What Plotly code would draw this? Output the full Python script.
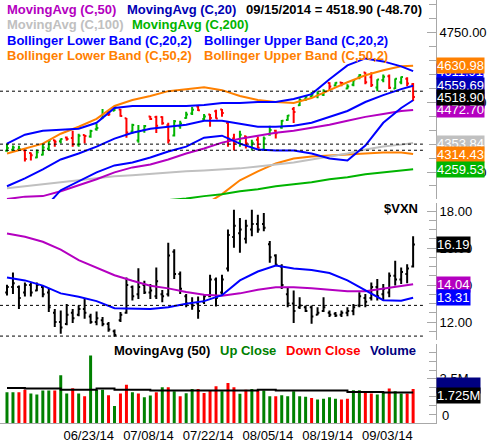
import plotly.graph_objects as go
from plotly.subplots import make_subplots
import pandas as pd

FONT = "Liberation Sans, Arial, sans-serif"

C = {
    "green": "#00B400",
    "red": "#FF0000",
    "vol_green": "#008000",
    "blue": "#0000FF",
    "navy": "#0000B4",
    "magenta": "#B400C0",
    "gray": "#C0C0C0",
    "ma200": "#00B400",
    "orange": "#FF8000",
    "axis": "#A8A8A8",
    "black": "#000000",
    "vol_box": "#000080",
}

# trading days shown on the chart
dates = [d.strftime("%Y-%m-%d") for d in pd.bdate_range(
    "2014-06-09", "2014-09-15", freq="C", holidays=["2014-07-04", "2014-09-01"])]

# $COMPQ daily bars
comp_open = [4326, 4330, 4330, 4328, 4318, 4302, 4312, 4333, 4364, 4360,
             4374, 4372, 4349, 4383, 4377, 4403, 4443, 4463, 4470, 4474,
             4443, 4395, 4363, 4400, 4449, 4447, 4447, 4418, 4381, 4414,
             4444, 4460, 4485, 4440, 4456, 4468, 4474, 4426, 4370, 4355,
             4378, 4340, 4366, 4330, 4385, 4398, 4410, 4437, 4476, 4490,
             4510, 4521, 4522, 4527, 4569, 4560, 4571, 4550, 4563, 4590,
             4607, 4590, 4553, 4580, 4594, 4550, 4572, 4585, 4565]
comp_high = [4352, 4345, 4344, 4331, 4320, 4331, 4352, 4363, 4366, 4370,
             4377, 4398, 4387, 4384, 4402, 4423, 4476, 4469, 4483, 4476,
             4444, 4423, 4419, 4419, 4451, 4452, 4450, 4427, 4437, 4434,
             4466, 4483, 4487, 4458, 4458, 4473, 4476, 4430, 4387, 4398,
             4380, 4366, 4377, 4377, 4416, 4402, 4437, 4455, 4483, 4515,
             4522, 4537, 4540, 4547, 4572, 4572, 4572, 4565, 4580, 4601,
             4608, 4608, 4583, 4600, 4600, 4586, 4593, 4590, 4569]
comp_low = [4323, 4327, 4328, 4288, 4291, 4299, 4309, 4327, 4341, 4352,
            4362, 4341, 4341, 4352, 4373, 4398, 4441, 4451, 4469, 4448,
            4373, 4387, 4355, 4391, 4437, 4390, 4420, 4352, 4377, 4405,
            4441, 4455, 4469, 4434, 4412, 4441, 4448, 4341, 4327, 4341,
            4334, 4327, 4334, 4327, 4380, 4370, 4405, 4434, 4426, 4487,
            4505, 4519, 4515, 4523, 4544, 4558, 4558, 4547, 4558, 4583,
            4565, 4555, 4540, 4572, 4548, 4548, 4565, 4558, 4505]
comp_close = [4336, 4338, 4332, 4297, 4310, 4321, 4338, 4362, 4359, 4368,
              4368, 4350, 4380, 4379, 4397, 4408, 4458, 4457, 4482, 4451,
              4392, 4419, 4396, 4415, 4440, 4416, 4425, 4363, 4432, 4424,
              4456, 4473, 4472, 4449, 4444, 4442, 4462, 4370, 4352, 4384,
              4353, 4355, 4337, 4370, 4401, 4389, 4434, 4453, 4465, 4508,
              4520, 4527, 4532, 4539, 4557, 4570, 4569, 4557, 4579, 4598,
              4572, 4562, 4582, 4592, 4552, 4585, 4591, 4568, 4518.90]

# overlay readings, every third session
line_dates = ["2014-06-09", "2014-06-12", "2014-06-17", "2014-06-20", "2014-06-25",
              "2014-06-30", "2014-07-03", "2014-07-09", "2014-07-14", "2014-07-17",
              "2014-07-22", "2014-07-25", "2014-07-30", "2014-08-04", "2014-08-07",
              "2014-08-12", "2014-08-15", "2014-08-20", "2014-08-25", "2014-08-28",
              "2014-09-03", "2014-09-08", "2014-09-11", "2014-09-15"]
ma20 = [4198.9, 4227.4, 4259.4, 4294.9, 4316.3, 4341.2, 4369.6, 4390.9, 4405.2, 4412.3,
        4419.4, 4433.6, 4433.6, 4422.9, 4412.3, 4412.3, 4415.8, 4426.5, 4447.9, 4469.1,
        4501.2, 4526.0, 4547.4, 4559.69]
bb20_upper = [4351.8, 4383.8, 4398.1, 4401.6, 4405.2, 4426.5, 4479.8, 4487.0, 4487.0, 4487.0,
              4487.0, 4490.5, 4497.6, 4497.6, 4501.2, 4501.2, 4511.8, 4529.6, 4582.9, 4632.7,
              4657.6, 4646.9, 4629.1, 4611.91]
bb20_lower = [4067.5, 4113.6, 4184.7, 4216.7, 4248.7, 4273.6, 4284.3, 4302.1, 4323.4,
              4341.2, 4373.2, 4380.3, 4351.8, 4330.5, 4326.9, 4326.9, 4316.3, 4298.5, 4291.4,
              4344.7, 4426.5, 4479.8, 4507.47]  # from 06/12
ma50 = [4152.7, 4161.6, 4163.4, 4181.2, 4202.5, 4223.8, 4248.7, 4266.5, 4277.2, 4294.9,
        4316.3, 4334.1, 4355.4, 4369.6, 4380.3, 4390.9, 4398.1, 4408.7, 4419.4, 4433.6,
        4447.9, 4458.5, 4469.1, 4472.70]
ma100 = [4191.8, 4198.9, 4206.1, 4213.2, 4220.3, 4227.4, 4234.5, 4238.1, 4243.4, 4248.7,
         4252.3, 4255.8, 4259.4, 4263.0, 4270.1, 4277.2, 4284.3, 4294.9, 4305.6, 4316.3,
         4330.5, 4341.2, 4348.2, 4353.84]
ma200 = [4149.2, 4154.5, 4163.4, 4170.5, 4181.2, 4188.3, 4198.9, 4206.1, 4213.2, 4223.8,
         4230.9, 4241.6, 4248.7, 4255.8, 4259.53]  # from 07/17
bb50_upper = [4316.3, 4334.1, 4351.8, 4387.4, 4412.3, 4440.7, 4487.0, 4508.3, 4522.5, 4540.2,
              4547.4, 4554.5, 4543.8, 4522.5, 4508.3, 4501.2, 4497.6, 4515.4, 4543.8, 4572.2,
              4597.1, 4614.9, 4629.1, 4630.98]
bb50_lower = [4092.3, 4131.4, 4170.5, 4220.3, 4252.3, 4280.7, 4298.5, 4305.6, 4309.2, 4312.7,
              4316.3, 4319.8, 4319.8, 4314.43]  # from 07/22
comp_levels = [4540, 4350, 4328]

# $VXN daily bars
vxn_open = [13.6, 13.9, 13.9, 13.6, 14.0, 13.7, 13.9, 13.6, 12.5, 12.0,
            11.9, 12.5, 12.4, 12.7, 12.3, 12.0, 12.1, 11.9, 11.5, 12.1,
            12.5, 13.9, 13.5, 14.0, 13.6, 13.4, 13.5, 13.5, 15.8, 14.6,
            13.4, 13.0, 13.0, 13.1, 13.4, 14.3, 13.6, 14.9, 16.6, 16.8,
            16.5, 17.0, 17.3, 17.3, 16.2, 15.6, 15.0, 13.5, 13.0, 12.8,
            12.8, 12.8, 12.4, 12.6, 12.5, 12.45, 12.4, 12.5, 12.6, 12.9,
            13.3, 13.3, 13.9, 13.5, 13.6, 14.5, 14.3, 14.6, 15.0]
vxn_high = [14.02, 14.68, 13.97, 14.14, 14.14, 14.14, 13.97, 13.84, 12.71, 12.63,
            12.98, 12.71, 12.90, 13.25, 12.45, 12.57, 12.27, 12.00, 11.59, 12.54,
            14.41, 13.97, 14.91, 14.23, 14.05, 14.95, 13.73, 16.29, 15.93, 14.73,
            13.52, 13.34, 13.38, 13.52, 14.56, 14.41, 14.56, 17.00, 18.07, 17.63,
            17.53, 18.07, 17.80, 17.89, 16.38, 15.66, 15.12, 13.88, 13.70, 13.34,
            12.90, 12.90, 12.80, 13.34, 12.63, 12.54, 12.63, 12.80, 12.98, 13.61,
            13.52, 14.14, 14.32, 14.05, 14.68, 15.31, 14.95, 15.12, 16.64]
vxn_low = [13.43, 13.52, 12.71, 13.38, 13.38, 13.66, 13.34, 12.54, 11.73, 11.37,
           11.82, 11.95, 12.31, 12.18, 11.91, 11.82, 11.77, 11.47, 11.20, 12.00,
           12.45, 13.16, 13.25, 13.52, 13.25, 13.25, 13.07, 13.38, 14.32, 13.52,
           12.80, 12.66, 12.18, 12.98, 13.34, 12.84, 13.48, 14.73, 16.02, 15.75,
           16.25, 16.64, 16.82, 16.91, 15.21, 15.04, 13.78, 12.80, 11.95, 12.71,
           12.54, 11.91, 12.36, 12.54, 12.27, 12.27, 12.27, 12.31, 12.36, 12.80,
           12.80, 13.16, 13.16, 13.16, 13.34, 13.97, 14.06, 14.09, 14.95]
vxn_close = [13.9, 14.1, 13.3, 14.0, 13.6, 14.0, 13.5, 12.8, 12.0, 11.7,
             12.4, 12.2, 12.7, 12.5, 12.0, 12.2, 11.9, 11.6, 11.3, 12.4,
             14.0, 13.4, 13.9, 13.6, 13.7, 14.2, 13.4, 15.6, 14.6, 13.8,
             13.0, 12.9, 12.6, 13.4, 14.3, 13.3, 14.3, 16.7, 17.2, 17.0,
             17.2, 17.3, 17.0, 17.1, 15.5, 15.1, 14.0, 13.0, 12.6, 12.9,
             12.6, 12.3, 12.5, 12.8, 12.4, 12.35, 12.5, 12.6, 12.8, 13.4,
             13.1, 13.9, 13.4, 13.8, 14.5, 14.3, 14.7, 14.9, 16.19]
vxn_ma_fast = [14.41, 14.25, 13.97, 13.55, 13.37, 13.13, 12.75, 12.71, 12.71, 12.80,
               12.99, 13.13, 13.45, 14.25, 14.73, 15.05, 14.89, 14.81, 14.65, 14.25,
               13.70, 13.18, 13.15, 13.31]
vxn_ma_slow = [16.78, 16.61, 16.34, 15.91, 15.35, 14.92, 14.53, 14.23, 13.96, 13.82,
               13.62, 13.48, 13.42, 13.55, 13.74, 13.88, 13.88, 13.82, 13.72, 13.66,
               13.66, 13.80, 13.93, 14.04]
vxn_levels = [12.90, 11.24]

# volume, millions of shares; G = up close, R = down close
volume_m = [1.74, 1.74, 1.74, 1.89, 1.67, 1.61, 1.84, 1.84, 1.84, 2.70,
            1.67, 1.97, 1.67, 1.52, 3.82, 1.89, 1.89, 1.57, 0.96, 1.67,
            2.17, 1.74, 1.67, 1.46, 1.56, 1.74, 2.02, 2.02, 1.80, 1.52,
            1.69, 1.93, 1.93, 1.70, 1.85, 2.08, 1.80, 2.26, 2.02, 1.65,
            1.89, 1.93, 1.89, 1.84, 1.52, 1.52, 1.57, 1.52, 1.80, 1.52,
            1.48, 1.42, 1.33, 1.37, 1.46, 1.37, 1.33, 1.37, 1.85, 1.85,
            1.74, 1.67, 1.61, 1.74, 1.95, 1.80, 1.67, 1.67, 1.93]
volume_dir = "GGRRGGGGRGGRGRGGGRGRRGRGGRGRGRGGRRRRGRRGRGRGGRGGGGGRGGGGRRGGRRGGRGGRR"
volume_ma50 = [1.98, 1.95, 1.95, 1.89, 1.89, 1.95, 1.89, 1.89, 1.84, 1.84,
               1.84, 1.84, 1.84, 1.84, 1.89, 1.84, 1.84, 1.84, 1.84, 1.76,
               1.76, 1.725, 1.725, 1.725]

tick_dates = ["2014-06-23", "2014-07-08", "2014-07-22", "2014-08-05", "2014-08-19", "2014-09-03"]
tick_text = ["06/23/14", "07/08/14", "07/22/14", "08/05/14", "08/19/14", "09/03/14"]

fig = make_subplots(rows=3, cols=1, shared_xaxes=True)


def line(x, y, color, row):
    fig.add_trace(go.Scatter(x=x, y=y, mode="lines", line=dict(color=color, width=2),
                             hoverinfo="skip"), row=row, col=1)


fig.add_trace(go.Ohlc(
    x=dates, open=comp_open, high=comp_high, low=comp_low, close=comp_close,
    increasing_line_color=C["green"], decreasing_line_color=C["red"],
    line_width=2, tickwidth=0.3,
), row=1, col=1)
line(line_dates[10:], bb50_lower, C["orange"], 1)
line(line_dates[9:], ma200, C["ma200"], 1)
line(line_dates, ma100, C["gray"], 1)
line(line_dates, ma50, C["magenta"], 1)
line(line_dates, bb50_upper, C["orange"], 1)
line(line_dates[1:], bb20_lower, C["blue"], 1)
line(line_dates, bb20_upper, C["blue"], 1)
line(line_dates, ma20, C["blue"], 1)

fig.add_trace(go.Ohlc(
    x=dates, open=vxn_open, high=vxn_high, low=vxn_low, close=vxn_close,
    increasing_line_color=C["black"], decreasing_line_color=C["black"],
    line_width=2, tickwidth=0.3,
), row=2, col=1)
line(line_dates, vxn_ma_slow, C["magenta"], 2)
line(line_dates, vxn_ma_fast, C["blue"], 2)

fig.add_trace(go.Bar(
    x=dates, y=volume_m,
    marker_color=[C["vol_green"] if d == "G" else C["red"] for d in volume_dir],
    marker_line_width=0,
), row=3, col=1)
fig.add_trace(go.Scatter(x=line_dates, y=volume_ma50, mode="lines", line_shape="hv",
                         line=dict(color=C["black"], width=2)), row=3, col=1)

n = len(dates)
x_common = dict(type="category", categoryorder="array", categoryarray=dates,
                range=[-1.17, n + 2.83], showgrid=False, zeroline=False,
                rangeslider=dict(visible=False), fixedrange=True)
for ax in ("xaxis", "xaxis2"):
    fig.layout[ax].update(showticklabels=False, ticks="", showline=False, **x_common)
fig.layout.xaxis3.update(
    tickvals=tick_dates, ticktext=tick_text, ticks="", ticklabelshift=22,
    showline=True, linecolor=C["axis"], linewidth=1,
    tickfont=dict(family=FONT, size=13, color="#000"), **x_common)

y_common = dict(side="right", showgrid=False, zeroline=False, showline=True,
                linecolor=C["axis"], linewidth=1, ticks="inside", ticklen=9,
                tickcolor=C["axis"], tickfont=dict(family=FONT, size=13, color="#000"),
                fixedrange=True)
fig.layout.yaxis.update(domain=[0.5293, 1], range=[4152.7, 4867.3], tick0=0, dtick=250,
                        tickformat=".2f",
                        minor=dict(ticks="inside", ticklen=7, tickcolor=C["axis"], dtick=50, tick0=0),
                        **y_common)
fig.layout.yaxis2.update(domain=[0.1967, 0.5199], range=[11.04, 18.43], tick0=0, dtick=2,
                         tickformat=".2f",
                         minor=dict(ticks="inside", ticklen=7, tickcolor=C["axis"], dtick=0.5, tick0=0),
                         **y_common)
fig.layout.yaxis3.update(domain=[0, 0.1874], range=[0, 4.49], tick0=0, dtick=2.5,
                         tickformat=".1f", labelalias={"0.0": " ", "2.5": "2.5M"},
                         minor=dict(ticks="inside", ticklen=7, tickcolor=C["axis"], dtick=0.5, tick0=0),
                         **y_common)

shapes = []
for lv in comp_levels:
    shapes.append(dict(type="line", xref="paper", x0=0, x1=0.97, yref="y", y0=lv, y1=lv,
                       line=dict(color="#000", width=1, dash="3px,3px")))
for lv in vxn_levels:
    shapes.append(dict(type="line", xref="paper", x0=0, x1=0.97, yref="y2", y0=lv, y1=lv,
                       line=dict(color="#000", width=1, dash="3px,3px")))


def label(x, y, text, color, bold=True):
    return dict(xref="paper", yref="paper", x=x, y=y, xanchor="left", yanchor="middle",
                text=f"<b>{text}</b>" if bold else text, showarrow=False,
                font=dict(family=FONT, size=13, color=color))


def value_box(v, text, color, yref, yshift=0, text_color="white"):
    return dict(xref="paper", x=1, xanchor="left", yref=yref, y=v, yanchor="middle",
                text=text, showarrow=False, bgcolor=color, borderpad=0, yshift=yshift,
                font=dict(family=FONT, size=13, color=text_color))


annotations = [
    label(0.0114, 0.9778, "MovingAvg (C,50)", C["magenta"]),
    label(0.2877, 0.9778, "MovingAvg (C,20)", C["navy"]),
    label(0.5594, 0.9778, "09/15/2014 = 4518.90 (-48.70)", "#000"),
    label(0.0114, 0.9415, "MovingAvg (C,100)", C["gray"]),
    label(0.2991, 0.9415, "MovingAvg (C,200)", C["ma200"]),
    label(0.0114, 0.9040, "Bollinger Lower Band (C,20,2)", C["blue"]),
    label(0.4635, 0.9040, "Bollinger Upper Band (C,20,2)", C["blue"]),
    label(0.0114, 0.8677, "Bollinger Lower Band (C,50,2)", C["orange"]),
    label(0.4635, 0.8677, "Bollinger Upper Band (C,50,2)", C["orange"]),
    label(0.8767, 0.5082, "$VXN", "#000"),
    label(0.258, 0.171, "MovingAvg (50)", "#000"),
    label(0.500, 0.171, "Up Close", C["vol_green"]),
    label(0.6507, 0.171, "Down Close", C["red"]),
    label(0.8447, 0.171, "Volume", C["vol_box"]),
    dict(xref="paper", x=1, xanchor="left", xshift=4, yref="y3", y=0, yanchor="middle",
         yshift=7, text="0", showarrow=False, font=dict(family=FONT, size=13, color="#000")),
    value_box(bb20_upper[-1], f"{bb20_upper[-1]:.2f}", C["blue"], "y"),
    value_box(bb50_upper[-1], f"{bb50_upper[-1]:.2f}", C["orange"], "y"),
    value_box(ma20[-1], f"{ma20[-1]:.2f}", C["navy"], "y"),
    value_box(bb20_lower[-1], f"{bb20_lower[-1]:.2f}", C["blue"], "y"),
    value_box(ma50[-1], f"{ma50[-1]:.2f}", C["magenta"], "y"),
    value_box(comp_close[-1], f"{comp_close[-1]:.2f}", C["black"], "y"),
    value_box(ma100[-1], f"{ma100[-1]:.2f}", C["gray"], "y"),
    value_box(bb50_lower[-1], f"{bb50_lower[-1]:.2f}", C["orange"], "y"),
    value_box(ma200[-1], f"{ma200[-1]:.2f}", C["ma200"], "y"),
    value_box(vxn_close[-1], f"{vxn_close[-1]:.2f}", C["black"], "y2"),
    value_box(vxn_ma_slow[-1], f"{vxn_ma_slow[-1]:.2f}", C["magenta"], "y2"),
    value_box(vxn_ma_fast[-1], f"{vxn_ma_fast[-1]:.2f}", C["blue"], "y2"),
    # volume box sits under the average's box, its text is not readable in the source
    value_box(volume_m[-1], f"{volume_m[-1]:.3f}M", C["vol_box"], "y3", yshift=3,
              text_color=C["vol_box"]),
    value_box(volume_ma50[-1], f"{volume_ma50[-1]:.3f}M", C["black"], "y3", yshift=-3),
]

fig.update_layout(
    width=487, height=443,
    margin=dict(l=0, r=49, t=0, b=16),
    paper_bgcolor="white", plot_bgcolor="white",
    font=dict(family=FONT, size=13, color="#000"),
    showlegend=False, bargap=0.5, hovermode=False,
    shapes=shapes, annotations=annotations,
)

# the page's default body margin would push the chart off the window
fig.write_html("out.html", config={"displayModeBar": False},
               post_script="document.body.style.margin='0';")
